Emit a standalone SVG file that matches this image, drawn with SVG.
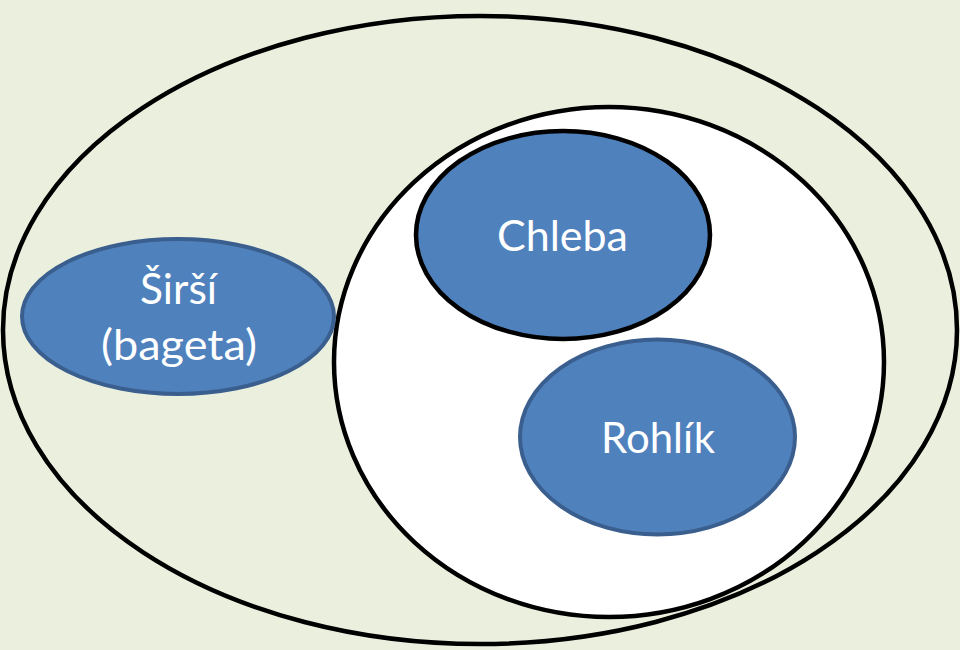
<svg xmlns="http://www.w3.org/2000/svg" width="960" height="650" viewBox="0 0 960 650">
<style>
.bg{fill:#EBF0DE}
.set{stroke:#000;stroke-width:4.5}
.blue{fill:#4F81BD}
.soft{stroke:#3A5F8E;stroke-width:4}
.lbl{font-family:Lato,"Open Sans","Liberation Sans",sans-serif;font-size:42px;fill:#fff;text-anchor:middle}
</style>
<rect class="bg" x="0" y="0" width="960" height="650"/>
<g id="outer"><ellipse class="set" cx="480" cy="330" rx="477" ry="314" fill="#EBF0DE"/></g>
<g id="inner"><ellipse class="set" cx="609" cy="362" rx="275" ry="255" fill="#fff"/></g>
<g id="chleba"><ellipse class="set blue" cx="563" cy="235" rx="147" ry="104"/><text class="lbl" x="562.5" y="251" textLength="131" lengthAdjust="spacingAndGlyphs">Chleba</text></g>
<g id="rohlik"><ellipse class="soft blue" cx="657.5" cy="437" rx="137.5" ry="97.5"/><text class="lbl" x="658" y="453" textLength="114" lengthAdjust="spacingAndGlyphs">Rohlík</text></g>
<g id="sirsi"><ellipse class="soft blue" cx="178" cy="316.5" rx="156" ry="77.5"/><text class="lbl" x="178.5" y="304" textLength="77" lengthAdjust="spacingAndGlyphs">Širší</text><text class="lbl" x="179" y="360" textLength="156" lengthAdjust="spacingAndGlyphs">(bageta)</text></g>
<g id="connectors"/>
</svg>
